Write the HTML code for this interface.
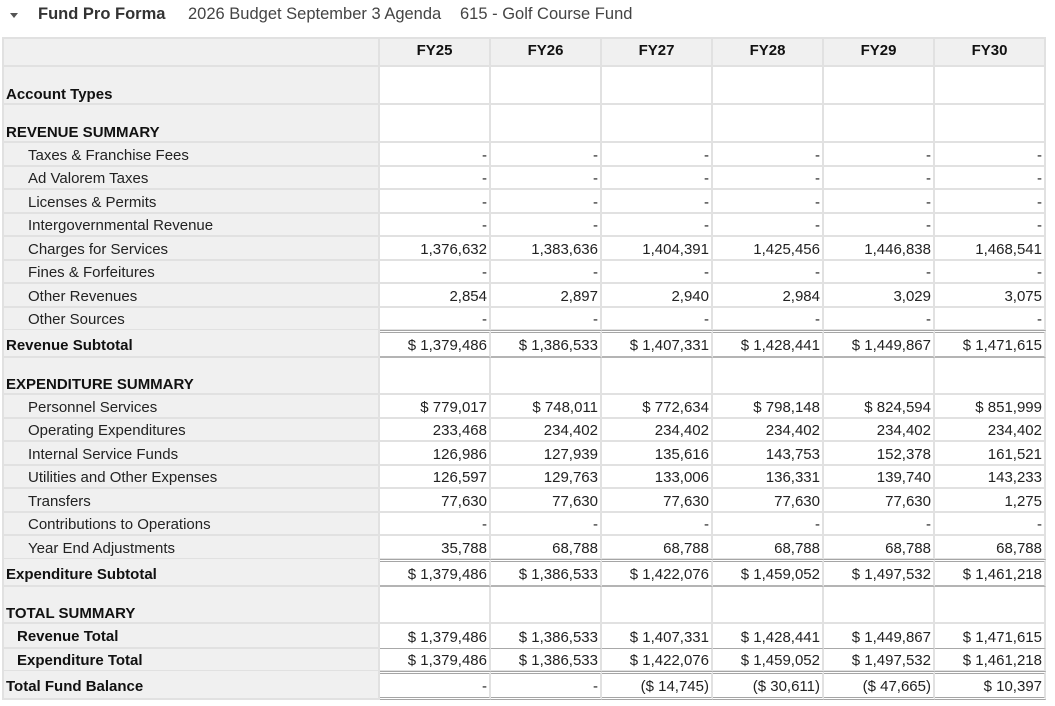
<!DOCTYPE html>
<html><head><meta charset="utf-8">
<style>
html,body{margin:0;padding:0;background:#fff;}
body{width:1055px;height:706px;position:relative;overflow:hidden;font-family:"Liberation Sans",Arial,sans-serif;}
.title{position:absolute;top:4px;height:20px;line-height:20px;font-size:16.5px;white-space:nowrap;}
.tri{position:absolute;left:10px;top:13px;width:0;height:0;border-left:4px solid transparent;border-right:4px solid transparent;border-top:5px solid #555;}
.r{position:absolute;left:2px;display:flex;}
.c{box-sizing:border-box;height:100%;border-right:2px solid #e1e1e1;border-bottom:2px solid #e1e1e1;display:flex;align-items:center;font-size:15px;white-space:nowrap;overflow:hidden;padding-top:3px;}
.l{width:378px;background:#f0f0f0;border-left:2px solid #e1e1e1;color:#222;padding-left:24px;}
.v{width:111px;background:#fff;justify-content:flex-end;padding-right:2px;color:#222;}
.b{font-weight:bold;color:#111;}
.l0{padding-left:2px;}
.l1{padding-left:13px;}
.sec .c{align-items:flex-end;padding-bottom:0px;padding-top:0;}
.hd .c{background:#f0f0f0;border-top:2px solid #e1e1e1;align-items:flex-start;padding-top:3px;font-weight:bold;color:#111;justify-content:center;padding-right:0;}
.dt .v{border-top:3px double #a5a5a5;}
.dt .c{padding-top:1px;}
.dt .l{padding-top:4px;}
.bt .v{border-bottom:2px solid #b4b4b4;}
.gt .v{border-bottom:1px solid #a8a8a8;}
.db .v{border-bottom:3px double #a5a5a5;}
</style></head><body>
<div class="tri"></div>
<div class="title" style="left:38px;font-weight:bold;color:#333;">Fund Pro Forma</div>
<div class="title" style="left:188px;color:#444;">2026 Budget September 3 Agenda</div>
<div class="title" style="left:460px;color:#444;">615 - Golf Course Fund</div>

<div class="r hd" style="top:37px;height:30px;"><div class="c l"></div><div class="c v">FY25</div><div class="c v">FY26</div><div class="c v">FY27</div><div class="c v">FY28</div><div class="c v">FY29</div><div class="c v">FY30</div></div>

<div class="r sec" style="top:67px;height:38px;"><div class="c l l0 b">Account Types</div><div class="c v"></div><div class="c v"></div><div class="c v"></div><div class="c v"></div><div class="c v"></div><div class="c v"></div></div>

<div class="r sec" style="top:105px;height:38px;"><div class="c l l0 b">REVENUE SUMMARY</div><div class="c v"></div><div class="c v"></div><div class="c v"></div><div class="c v"></div><div class="c v"></div><div class="c v"></div></div>

<div class="r" style="top:143px;height:23.5px;"><div class="c l">Taxes &amp; Franchise Fees</div><div class="c v">-</div><div class="c v">-</div><div class="c v">-</div><div class="c v">-</div><div class="c v">-</div><div class="c v">-</div></div>
<div class="r" style="top:166.5px;height:23.5px;"><div class="c l">Ad Valorem Taxes</div><div class="c v">-</div><div class="c v">-</div><div class="c v">-</div><div class="c v">-</div><div class="c v">-</div><div class="c v">-</div></div>
<div class="r" style="top:190px;height:23.5px;"><div class="c l">Licenses &amp; Permits</div><div class="c v">-</div><div class="c v">-</div><div class="c v">-</div><div class="c v">-</div><div class="c v">-</div><div class="c v">-</div></div>
<div class="r" style="top:213.5px;height:23.5px;"><div class="c l">Intergovernmental Revenue</div><div class="c v">-</div><div class="c v">-</div><div class="c v">-</div><div class="c v">-</div><div class="c v">-</div><div class="c v">-</div></div>
<div class="r" style="top:237px;height:23.5px;"><div class="c l">Charges for Services</div><div class="c v">1,376,632</div><div class="c v">1,383,636</div><div class="c v">1,404,391</div><div class="c v">1,425,456</div><div class="c v">1,446,838</div><div class="c v">1,468,541</div></div>
<div class="r" style="top:260.5px;height:23.5px;"><div class="c l">Fines &amp; Forfeitures</div><div class="c v">-</div><div class="c v">-</div><div class="c v">-</div><div class="c v">-</div><div class="c v">-</div><div class="c v">-</div></div>
<div class="r" style="top:284px;height:23.5px;"><div class="c l">Other Revenues</div><div class="c v">2,854</div><div class="c v">2,897</div><div class="c v">2,940</div><div class="c v">2,984</div><div class="c v">3,029</div><div class="c v">3,075</div></div>
<div class="r" style="top:307.5px;height:23.5px;"><div class="c l">Other Sources</div><div class="c v">-</div><div class="c v">-</div><div class="c v">-</div><div class="c v">-</div><div class="c v">-</div><div class="c v">-</div></div>

<div class="r dt bt" style="top:330px;height:28px;"><div class="c l l0 b">Revenue Subtotal</div><div class="c v">$ 1,379,486</div><div class="c v">$ 1,386,533</div><div class="c v">$ 1,407,331</div><div class="c v">$ 1,428,441</div><div class="c v">$ 1,449,867</div><div class="c v">$ 1,471,615</div></div>

<div class="r sec" style="top:358px;height:37px;"><div class="c l l0 b">EXPENDITURE SUMMARY</div><div class="c v"></div><div class="c v"></div><div class="c v"></div><div class="c v"></div><div class="c v"></div><div class="c v"></div></div>

<div class="r" style="top:395px;height:23.5px;"><div class="c l">Personnel Services</div><div class="c v">$ 779,017</div><div class="c v">$ 748,011</div><div class="c v">$ 772,634</div><div class="c v">$ 798,148</div><div class="c v">$ 824,594</div><div class="c v">$ 851,999</div></div>
<div class="r" style="top:418.5px;height:23.5px;"><div class="c l">Operating Expenditures</div><div class="c v">233,468</div><div class="c v">234,402</div><div class="c v">234,402</div><div class="c v">234,402</div><div class="c v">234,402</div><div class="c v">234,402</div></div>
<div class="r" style="top:442px;height:23.5px;"><div class="c l">Internal Service Funds</div><div class="c v">126,986</div><div class="c v">127,939</div><div class="c v">135,616</div><div class="c v">143,753</div><div class="c v">152,378</div><div class="c v">161,521</div></div>
<div class="r" style="top:465.5px;height:23.5px;"><div class="c l">Utilities and Other Expenses</div><div class="c v">126,597</div><div class="c v">129,763</div><div class="c v">133,006</div><div class="c v">136,331</div><div class="c v">139,740</div><div class="c v">143,233</div></div>
<div class="r" style="top:489px;height:23.5px;"><div class="c l">Transfers</div><div class="c v">77,630</div><div class="c v">77,630</div><div class="c v">77,630</div><div class="c v">77,630</div><div class="c v">77,630</div><div class="c v">1,275</div></div>
<div class="r" style="top:512.5px;height:23.5px;"><div class="c l">Contributions to Operations</div><div class="c v">-</div><div class="c v">-</div><div class="c v">-</div><div class="c v">-</div><div class="c v">-</div><div class="c v">-</div></div>
<div class="r" style="top:536px;height:24px;"><div class="c l">Year End Adjustments</div><div class="c v">35,788</div><div class="c v">68,788</div><div class="c v">68,788</div><div class="c v">68,788</div><div class="c v">68,788</div><div class="c v">68,788</div></div>

<div class="r dt bt" style="top:559px;height:28px;"><div class="c l l0 b">Expenditure Subtotal</div><div class="c v">$ 1,379,486</div><div class="c v">$ 1,386,533</div><div class="c v">$ 1,422,076</div><div class="c v">$ 1,459,052</div><div class="c v">$ 1,497,532</div><div class="c v">$ 1,461,218</div></div>

<div class="r sec" style="top:587px;height:37px;"><div class="c l l0 b">TOTAL SUMMARY</div><div class="c v"></div><div class="c v"></div><div class="c v"></div><div class="c v"></div><div class="c v"></div><div class="c v"></div></div>

<div class="r gt" style="top:624px;height:24.5px;"><div class="c l l1 b">Revenue Total</div><div class="c v">$ 1,379,486</div><div class="c v">$ 1,386,533</div><div class="c v">$ 1,407,331</div><div class="c v">$ 1,428,441</div><div class="c v">$ 1,449,867</div><div class="c v">$ 1,471,615</div></div>
<div class="r" style="top:648.5px;height:23.5px;"><div class="c l l1 b">Expenditure Total</div><div class="c v">$ 1,379,486</div><div class="c v">$ 1,386,533</div><div class="c v">$ 1,422,076</div><div class="c v">$ 1,459,052</div><div class="c v">$ 1,497,532</div><div class="c v">$ 1,461,218</div></div>
<div class="r dt db" style="top:671px;height:29px;"><div class="c l l0 b">Total Fund Balance</div><div class="c v">-</div><div class="c v">-</div><div class="c v">($ 14,745)</div><div class="c v">($ 30,611)</div><div class="c v">($ 47,665)</div><div class="c v">$ 10,397</div></div>
</body></html>
